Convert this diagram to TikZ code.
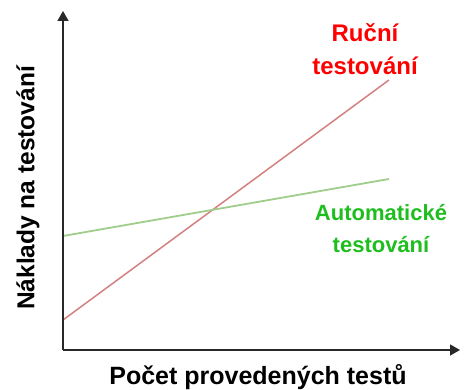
\documentclass[tikz,border=0pt]{standalone}
\usepackage{fontspec}
\setmainfont{Liberation Sans}
\usetikzlibrary{arrows.meta}
\definecolor{axisgray}{RGB}{40,40,40}
\definecolor{redline}{RGB}{212,128,128}
\definecolor{greenline}{RGB}{160,205,140}
\definecolor{redtext}{RGB}{255,0,0}
\definecolor{greentext}{RGB}{30,190,30}
\tikzset{
  axis/.style={draw=axisgray, line width=1.5pt, -{Triangle[length=10pt,width=11pt]}},
  lbl/.style={font=\bfseries\fontsize{24}{33}\selectfont, align=center, inner sep=0pt},
}
\begin{document}
\begin{tikzpicture}[x=1pt,y=-1pt]
\useasboundingbox (0,0) rectangle (469,390);
\coordinate (O) at (63,350);
\coordinate (ytop) at (63,11);
\coordinate (xend) at (460,350);
\coordinate (r0) at (63,320);
\coordinate (r1) at (389,80);
\coordinate (g0) at (63,236);
\coordinate (g1) at (389,179);
\draw[redline, line width=1.5pt] (r0) -- (r1);
\draw[greenline, line width=1.8pt] (g0) -- (g1);
\draw[axis] (O) -- (ytop);
\draw[axis] (O) -- (xend);
\node[lbl, text=redtext] (rl) at (365,49) {Ruční\\testování};
\node[lbl, text=greentext, font=\bfseries\fontsize{22}{32}\selectfont] (gl) at (381,229) {Automatické\\testování};
\node[lbl, font=\bfseries\fontsize{25}{30}\selectfont] (xl) at (258,377) {Počet provedených testů};
\node[lbl, font=\bfseries\fontsize{24.5}{30}\selectfont, rotate=90] (yl) at (28,188) {Náklady na testování};
\end{tikzpicture}
\end{document}
